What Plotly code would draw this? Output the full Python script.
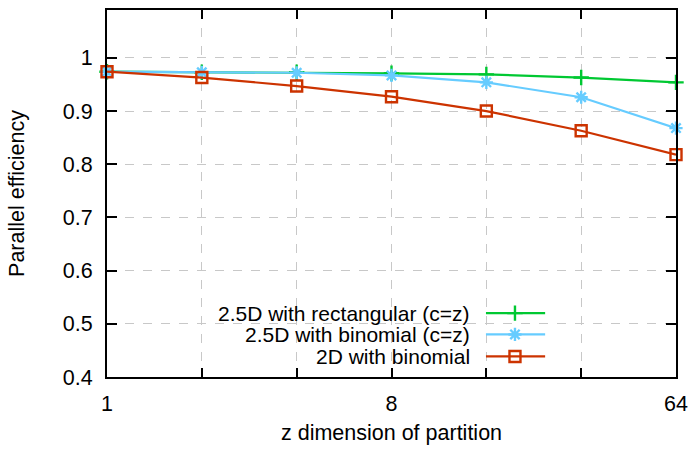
import plotly.graph_objects as go
import math

z = [1, 2, 4, 8, 16, 32, 64]
rect_eff = [0.974, 0.973, 0.973, 0.971, 0.969, 0.963, 0.954]
binom25_eff = [0.974, 0.973, 0.972, 0.967, 0.954, 0.926, 0.868]
binom2d_eff = [0.974, 0.963, 0.947, 0.927, 0.900, 0.863, 0.818]

series_names = ["2.5D with rectangular (c=z)", "2.5D with binomial (c=z)", "2D with binomial"]
colors = ["rgb(0,200,50)", "rgb(102,204,255)", "rgb(204,51,0)"]
symbols = ["cross-thin-open", "asterisk-open", "square-open"]
msizes = [11, 11, 11]

x_tickvals = [1, 2, 4, 8, 16, 32, 64]
x_ticktext = ["1", "", "", "8", "", "", "64"]
y_tickvals = [0.4, 0.5, 0.6, 0.7, 0.8, 0.9, 1.0]
y_ticktext = ["0.4", "0.5", "0.6", "0.7", "0.8", "0.9", "1"]

FONT = "Liberation Sans, Arial, sans-serif"
FS = 21.5
LFS = 21

fig = go.Figure()
for ys, name, c, s, ms in zip([rect_eff, binom25_eff, binom2d_eff], series_names, colors, symbols, msizes):
    fig.add_trace(go.Scatter(
        x=z, y=ys, mode="lines+markers", name=name,
        line=dict(color=c, width=2.2),
        marker=dict(symbol=s, size=ms, color=c, line=dict(color=c, width=2.4)),
        cliponaxis=False, showlegend=False,
    ))

# Manual gnuplot-style key (opaque box, text right-aligned, sample to the right)
leg_rows = [0.174, 0.116, 0.056]
leg_x0, leg_x1, leg_xm, leg_tx = 0.666, 0.770, 0.717, 0.641
shapes = [dict(type="rect", xref="paper", yref="paper", x0=0.0, x1=0.793, y0=0.027, y1=0.206,
               fillcolor="white", line=dict(width=0), layer="between")]
annotations = []
for yr, name, c in zip(leg_rows, series_names, colors):
    shapes.append(dict(type="line", xref="paper", yref="paper", x0=leg_x0, x1=leg_x1, y0=yr, y1=yr,
                       line=dict(color=c, width=2.2), layer="above"))
    annotations.append(dict(xref="paper", yref="paper", x=leg_tx, y=yr, text=name, showarrow=False,
                            xanchor="right", yanchor="middle", height=23, valign="middle",
                            font=dict(family=FONT, size=LFS, color="black")))
for yr, c, s, ms in zip(leg_rows, colors, symbols, msizes):
    fig.add_trace(go.Scatter(x=[leg_xm], y=[yr], xaxis="x2", yaxis="y2", mode="markers",
                             marker=dict(symbol=s, size=ms, color=c, line=dict(color=c, width=2.4)),
                             showlegend=False, cliponaxis=False, hoverinfo="skip"))

fig.update_layout(
    width=696, height=449,
    margin=dict(l=107, r=14, t=8, b=67),
    paper_bgcolor="white", plot_bgcolor="white",
    font=dict(family=FONT, size=FS, color="black"),
    shapes=shapes, annotations=annotations,
    xaxis=dict(type="log", range=[0, math.log10(64)], tickvals=x_tickvals, ticktext=x_ticktext,
               showgrid=True, gridcolor="rgb(200,200,200)", griddash="dash", gridwidth=1,
               ticks="inside", ticklen=9, tickwidth=1.5, tickcolor="black",
               showline=True, linecolor="black", linewidth=2, mirror="allticks",
               zeroline=False, ticklabelstandoff=6,
               title=dict(text="z dimension of partition", font=dict(size=FS), standoff=10)),
    yaxis=dict(range=[0.4, 1.09], tickvals=y_tickvals, ticktext=y_ticktext,
               showgrid=True, gridcolor="rgb(200,200,200)", griddash="dash", gridwidth=1,
               ticks="inside", ticklen=10, tickwidth=1.5, tickcolor="black",
               showline=True, linecolor="black", linewidth=2, mirror="allticks",
               zeroline=False, ticklabelstandoff=8,
               title=dict(text="Parallel efficiency", font=dict(size=FS), standoff=32)),
    xaxis2=dict(range=[0, 1], overlaying="x", visible=False, domain=[0, 1]),
    yaxis2=dict(range=[0, 1], overlaying="y", visible=False),
)

fig.write_html("out.html")
